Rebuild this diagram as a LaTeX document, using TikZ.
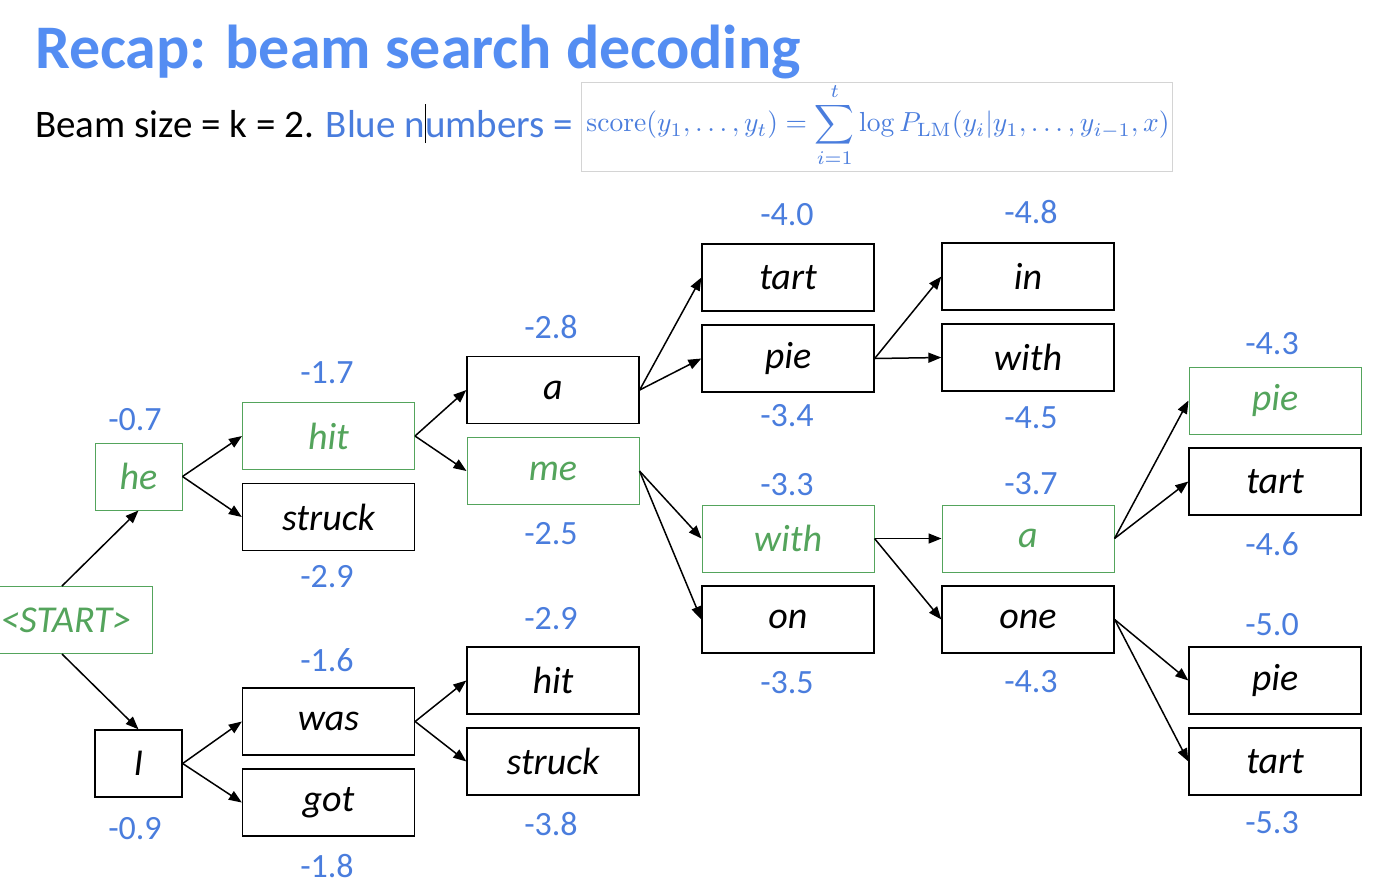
\documentclass[tikz,border=0pt]{standalone}
\usepackage{amsmath}
\usepackage[no-math]{fontspec}
\setmainfont{Carlito}
\usetikzlibrary{arrows.meta}
\definecolor{titleblue}{RGB}{84,141,242}
\definecolor{scoreblue}{RGB}{74,125,221}
\definecolor{beamgreen}{RGB}{84,164,92}
\definecolor{boxgray}{RGB}{212,212,212}

\tikzset{
  word/.style={draw=black, line width=1.3pt, minimum width=172pt, minimum height=67pt,
    inner sep=0pt, font=\fontsize{38}{40}\selectfont\itshape},
  kept/.style={word, draw=beamgreen, line width=1pt, text=beamgreen},
  score/.style={text=scoreblue, font=\fontsize{34}{36}\selectfont, inner sep=0pt},
  link/.style={-{Triangle[length=13pt,width=10pt]}, line width=1.5pt},
}
% text cursor standing between two letters
\newcommand{\caretbar}{\hbox to 0pt{\kern-0.5pt\color{black}\rule[-6pt]{1pt}{39pt}\hss}}

\begin{document}
\begin{tikzpicture}[x=1pt,y=-1pt]
\useasboundingbox (0,0) rectangle (1380,892);
\clip (0,0) rectangle (1380,892);

% heading and legend
\node[anchor=base west, inner sep=0pt, text=titleblue, font=\fontsize{62}{64}\selectfont\bfseries]
  (title) at (35,68) {Recap: beam search decoding};
\node[anchor=base west, inner sep=0pt, font=\fontsize{39}{41}\selectfont]
  (legend) at (35,137) {Beam size = k = 2. \textcolor{scoreblue}{Blue n\caretbar umbers =}};
\node[draw=boxgray, line width=1pt, minimum width=591pt, minimum height=89pt, inner sep=0pt]
  (fbox) at (876.5,126.5) {};
\node[inner sep=0pt, text=scoreblue] (formula) at (878,125)
  {\resizebox{583pt}{!}{$\displaystyle \mathrm{score}(y_1,\dots,y_t)=\sum_{i=1}^{t}\log P_{\mathrm{LM}}(y_i|y_1,\dots,y_{i-1},x)$}};

% search tree
\node[kept] (start) at (66,620) {<START>};
\node[kept, minimum width=87pt] (he) at (138.5,476.5) {he};
\node[word, minimum width=87pt] (I) at (138.5,763.5) {I};

\node[kept] (hit) at (328.5,436) {hit};
\node[word] (struck) at (328.5,517) {struck};
\node[word] (was) at (328.5,721.5) {was};
\node[word] (got) at (328.5,802.5) {got};

\node[word] (a) at (553,390) {a};
\node[kept] (me) at (553,471) {me};
\node[word] (hitb) at (553,680.5) {hit};
\node[word] (struckb) at (553,761.5) {struck};

\node[word] (tart) at (788,277.5) {tart};
\node[word] (pie) at (788,358.5) {pie};
\node[kept] (with) at (788,538.5) {with};
\node[word] (on) at (788,619.5) {on};

\node[word] (in) at (1028,276.5) {in};
\node[word] (withb) at (1028,357.5) {with};
\node[kept] (ab) at (1028,538.5) {a};
\node[word] (one) at (1028,619.5) {one};

\node[kept] (pieb) at (1275,400.5) {pie};
\node[word] (tartb) at (1275,481.5) {tart};
\node[word] (piec) at (1275,680.5) {pie};
\node[word] (tartc) at (1275,761.5) {tart};

% scores
\node[score] (s1) at (135,420) {-0.7};
\node[score] (s2) at (135,829) {-0.9};
\node[score] (s3) at (327,373) {-1.7};
\node[score] (s4) at (327,577) {-2.9};
\node[score] (s5) at (327,660) {-1.6};
\node[score] (s6) at (327,866) {-1.8};
\node[score] (s7) at (551,327) {-2.8};
\node[score] (s8) at (551,534) {-2.5};
\node[score] (s9) at (551,619) {-2.9};
\node[score] (s10) at (551,824) {-3.8};
\node[score] (s11) at (787,215) {-4.0};
\node[score] (s12) at (787,416) {-3.4};
\node[score] (s13) at (787,485) {-3.3};
\node[score] (s14) at (787,683) {-3.5};
\node[score] (s15) at (1031,212) {-4.8};
\node[score] (s16) at (1031,418) {-4.5};
\node[score] (s17) at (1031,484) {-3.7};
\node[score] (s18) at (1031,682) {-4.3};
\node[score] (s19) at (1272,344) {-4.3};
\node[score] (s20) at (1272,544) {-4.6};
\node[score] (s21) at (1272,625) {-5.0};
\node[score] (s22) at (1272,823) {-5.3};

% connectors
\draw[link] ([xshift=-4pt]start.north) -- (he.south);
\draw[link] ([xshift=-4pt]start.south) -- (I.north);
\draw[link] (he.east) -- (hit.west);
\draw[link] (he.east) -- (struck.west);
\draw[link] (I.east) -- (was.west);
\draw[link] (I.east) -- (got.west);
\draw[link] (hit.east) -- (a.west);
\draw[link] (hit.east) -- (me.west);
\draw[link] (was.east) -- (hitb.west);
\draw[link] (was.east) -- (struckb.west);
\draw[link] (a.east) -- (tart.west);
\draw[link] (a.east) -- (pie.west);
\draw[link] (me.east) -- (with.west);
\draw[link] (me.east) -- (on.west);
\draw[link] (pie.east) -- (in.west);
\draw[link] (pie.east) -- (withb.west);
\draw[link] (with.east) -- (ab.west);
\draw[link] (with.east) -- (one.west);
\draw[link] (ab.east) -- (pieb.west);
\draw[link] (ab.east) -- (tartb.west);
\draw[link] (one.east) -- (piec.west);
\draw[link] (one.east) -- (tartc.west);
\end{tikzpicture}
\end{document}
